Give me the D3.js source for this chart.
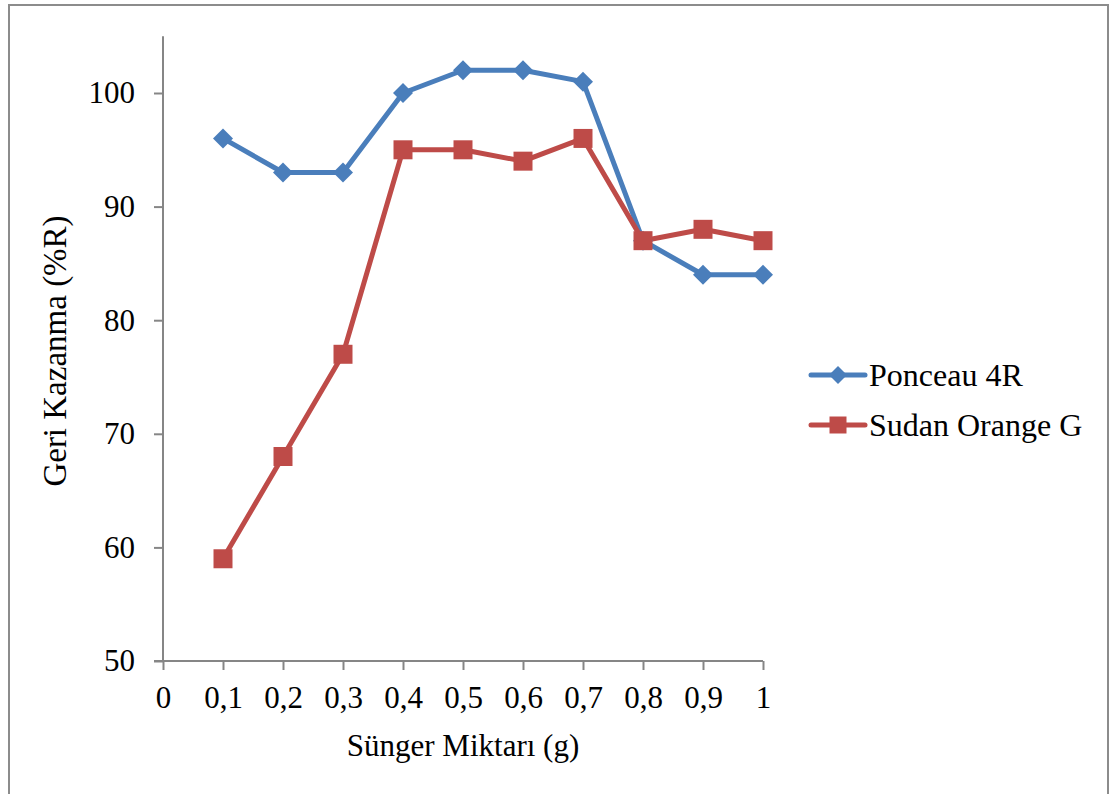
<!DOCTYPE html>
<html>
<head>
<meta charset="utf-8">
<script src="https://cdn.jsdelivr.net/npm/d3@7"></script>
<style>
  html, body { margin: 0; padding: 0; background: #fff; }
  svg text { font-family: "Liberation Serif", "Times New Roman", serif; fill: #000; }
</style>
</head>
<body>
<script>
// Sponge amount (g) and recovery (%R) for the two dyes
const amounts = [0.1, 0.2, 0.3, 0.4, 0.5, 0.6, 0.7, 0.8, 0.9, 1.0];
const ponceau4R = [96, 93, 93, 100, 102, 102, 101, 87, 84, 84];
const sudanOrangeG = [59, 68, 77, 95, 95, 94, 96, 87, 88, 87];
const xTicks = [0, 0.1, 0.2, 0.3, 0.4, 0.5, 0.6, 0.7, 0.8, 0.9, 1];
const yTicks = [50, 60, 70, 80, 90, 100];
const seriesNames = ["Ponceau 4R", "Sudan Orange G"];

const W = 1116, H = 794;
const svg = d3.select("body").append("svg").attr("width", W).attr("height", H);

// outer frame (open at the bottom edge of the view)
svg.append("rect")
  .attr("x", 9).attr("y", 5).attr("width", 1099).attr("height", 810)
  .attr("fill", "none").attr("stroke", "#8c8c8c").attr("stroke-width", 2);

const x = d3.scaleLinear().domain([0, 1]).range([163, 763]);
const y = d3.scaleLinear().domain([50, 105]).range([661, 36.2]);

const axisColor = "#868686";
const fmt = d => d === 0 ? "0" : d === 1 ? "1" : d3.format(".1f")(d).replace(".", ",");

// x axis
const gx = svg.append("g").attr("transform", `translate(0,${y(50)})`)
  .call(d3.axisBottom(x).tickValues(xTicks).tickFormat(fmt).tickSize(9).tickPadding(16));
// y axis
const gy = svg.append("g").attr("transform", `translate(${x(0)},0)`)
  .call(d3.axisLeft(y).tickValues(yTicks).tickSize(9).tickPadding(19));

[gx, gy].forEach(g => {
  g.attr("font-family", null);
  g.select(".domain").attr("stroke", axisColor).attr("stroke-width", 2);
  g.selectAll(".tick line").attr("stroke", axisColor).attr("stroke-width", 2);
  g.selectAll(".tick text").style("font-family", "'Liberation Serif', serif")
    .style("font-size", "31px").attr("fill", "#000");
});
// axis lines span only the plotting domain
gy.select(".domain").attr("d", `M0,${y(50)}V${y(105)}`);
gx.select(".domain").attr("d", `M${x(0) - 9},0H${x(1)}`);

// axis titles
svg.append("text")
  .attr("x", 463).attr("y", 756)
  .attr("text-anchor", "middle")
  .style("font-size", "31px")
  .text("Sünger Miktarı (g)");
svg.append("text")
  .attr("transform", "translate(66,351) rotate(-90)")
  .attr("text-anchor", "middle")
  .style("font-size", "33px")
  .text("Geri Kazanma (%R)");

const colors = ["#4A7EBB", "#BE4B48"];
const series = [ponceau4R, sudanOrangeG];

const line = d3.line().x((d, i) => x(amounts[i])).y(d => y(d));

const diamond = s => `M0,${-s}L${s},0L0,${s}L${-s},0Z`;
const square = s => `M${-s},${-s}H${s}V${s}H${-s}Z`;
const shapes = [diamond(10), square(9.5)];

series.forEach((vals, k) => {
  svg.append("path").datum(vals)
    .attr("d", line)
    .attr("fill", "none").attr("stroke", colors[k])
    .attr("stroke-width", 5).attr("stroke-linejoin", "round");
});
series.forEach((vals, k) => {
  svg.append("g").selectAll("path").data(vals).join("path")
    .attr("transform", (d, i) => `translate(${x(amounts[i])},${y(d)})`)
    .attr("d", shapes[k])
    .attr("fill", colors[k]);
});

// legend
const legendY = [375, 425];
seriesNames.forEach((name, k) => {
  const g = svg.append("g").attr("transform", `translate(0,${legendY[k]})`);
  g.append("line").attr("x1", 811).attr("x2", 865).attr("y1", 0).attr("y2", 0)
    .attr("stroke", colors[k]).attr("stroke-width", 5).attr("stroke-linecap", "round");
  g.append("path").attr("transform", "translate(838,0)")
    .attr("d", k === 0 ? diamond(9) : square(8.5)).attr("fill", colors[k]);
  g.append("text").attr("x", 869).attr("y", 11)
    .style("font-size", "32px").text(name);
});
</script>
</body>
</html>
